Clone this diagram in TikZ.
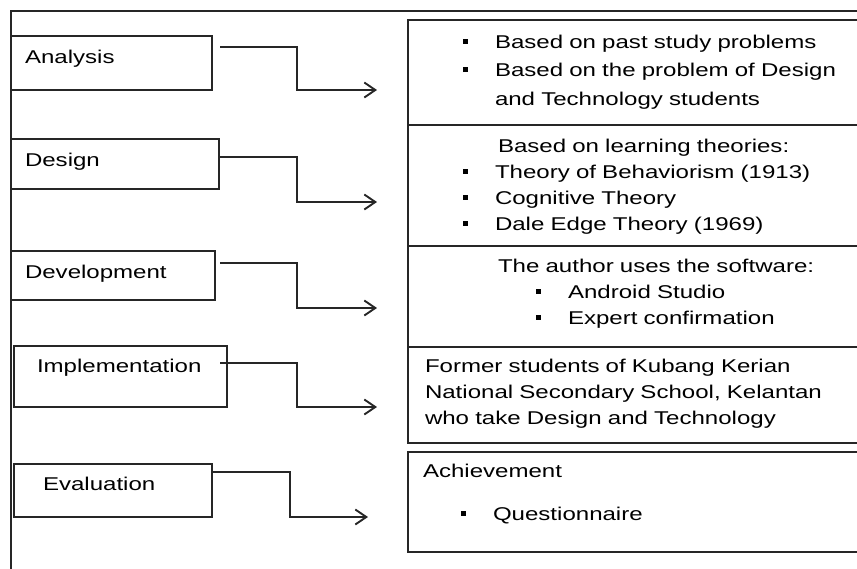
\documentclass[tikz,border=0pt]{standalone}
\usepackage{fontspec}
\setmainfont[FakeStretch=1.3]{Liberation Sans}
\usetikzlibrary{arrows.meta}

\newcommand{\blt}{\rule[4.5pt]{5pt}{5pt}\hspace{27pt}}

\begin{document}
\begin{tikzpicture}[x=1pt,y=-1pt,line width=1.4pt,
  phase/.style={draw=black!85, anchor=north west, inner xsep=14pt, inner ysep=0pt, outer sep=0pt, text height=27pt, align=left},
  detail/.style={draw=black!85, anchor=north west, inner sep=0pt, outer sep=0pt, text width=470pt, align=left},
  flow/.style={draw=black!85, -{Straight Barb[length=11pt,width=15pt,line width=1.9pt]}},
  font=\fontsize{18.5}{26}\selectfont]
\useasboundingbox (0,0) rectangle (857,568);

% frame
\draw[black!85] (11,580) |- (880,11);

% phases
\node[phase, text width=173pt, text depth=27pt] (anal) at (11,36) {Analysis};
\node[phase, text width=180pt, text depth=23pt] (des) at (11,139) {Design};
\node[phase, text width=176pt, text depth=22pt] (dev) at (11,251) {Development};
\node[phase, text width=185pt, text height=26pt, text depth=35pt] (impl) at (14,346) {\hspace*{9pt}Implementation};
\node[phase, text width=170pt, text height=26pt, text depth=27pt] (eval) at (14,464) {\hspace*{15pt}Evaluation};

% details
\node[detail, text height=28pt, text depth=77pt, font=\fontsize{18.5}{28.5}\selectfont] (r1) at (408,20)
  {\hspace*{55pt}\blt Based on past study problems\\
   \hspace*{55pt}\blt Based on the problem of Design\\
   \hspace*{87pt}and Technology students};
\node[detail, text height=27pt, text depth=94pt] (r2) at (r1.south west)
  {\hspace*{90pt}Based on learning theories:\\
   \hspace*{55pt}\blt Theory of Behaviorism (1913)\\
   \hspace*{55pt}\blt Cognitive Theory\\
   \hspace*{55pt}\blt Dale Edge Theory (1969)};
\node[detail, text height=26pt, text depth=75pt] (r3) at (r2.south west)
  {\hspace*{90pt}The author uses the software:\\
   \hspace*{128pt}\blt Android Studio\\
   \hspace*{128pt}\blt Expert confirmation};
\node[detail, text height=25pt, text depth=71pt] (r4) at (r3.south west)
  {\hspace*{17pt}Former students of Kubang Kerian\\
   \hspace*{17pt}National Secondary School, Kelantan\\
   \hspace*{17pt}who take Design and Technology};
\node[detail, text height=25pt, text depth=75pt] (r5) at (408,452)
  {\hspace*{15pt}Achievement\\[17pt]
   \hspace*{53pt}\blt Questionnaire};

% arrows
\coordinate (a1) at (220,47);  \coordinate (a2) at (377,90);
\coordinate (d1) at (219,157); \coordinate (d2) at (377,202);
\coordinate (v1) at (220,263); \coordinate (v2) at (377,308);
\coordinate (i1) at (220,363); \coordinate (i2) at (377,407);
\coordinate (e1) at (212,472); \coordinate (e2) at (368,517);

\draw[flow] (a1) -| ([xshift=-80pt]a2) -- (a2);
\draw[flow] (d1) -| ([xshift=-80pt]d2) -- (d2);
\draw[flow] (v1) -| ([xshift=-80pt]v2) -- (v2);
\draw[flow] (i1) -| ([xshift=-80pt]i2) -- (i2);
\draw[flow] (e1) -| ([xshift=-78pt]e2) -- (e2);
\end{tikzpicture}
\end{document}
